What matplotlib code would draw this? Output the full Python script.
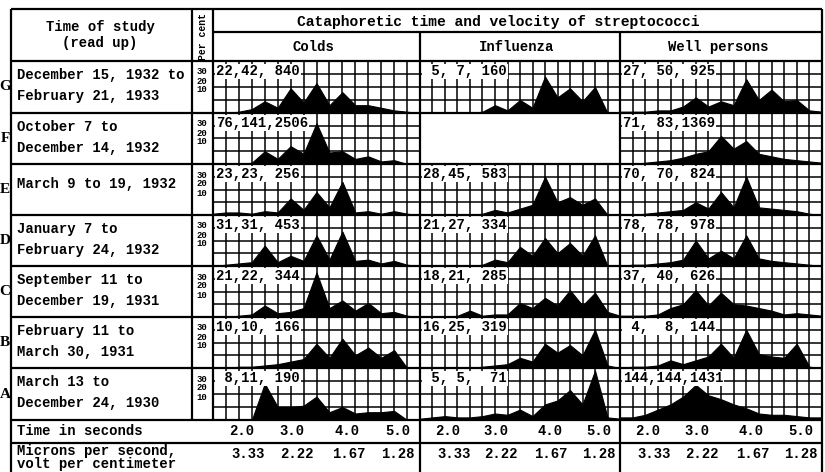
import matplotlib
matplotlib.use("Agg")
import matplotlib.pyplot as plt

W, H = 825, 472
mono = "Liberation Mono"

# rows of the table, top to bottom
letters = ["G", "F", "E", "D", "C", "B", "A"]
period_1 = ["December 15, 1932 to", "October 7 to", "March 9 to 19, 1932", "January 7 to",
            "September 11 to", "February 11 to", "March 13 to"]
period_2 = ["February 21, 1933", "December 14, 1932", "", "February 24, 1932",
            "December 19, 1931", "March 30, 1931", "December 24, 1930"]

groups = ["Colds", "Influenza", "Well persons"]
time_labels = ["2.0", "3.0", "4.0", "5.0"]
velocity_labels = ["3.33", "2.22", "1.67", "1.28"]
cells = list(range(17))   # grid lines, a quarter second apart

colds_counts = ["22,42, 840", "76,141,2506", "23,23, 256", "31,31, 453",
                "21,22, 344", "10,10, 166", " 8,11, 190"]
flu_counts = [" 5, 7, 160", "", "28,45, 583", "21,27, 334",
              "18,21, 285", "16,25, 319", " 5, 5,  71"]
well_counts = ["27, 50, 925", "71, 83,1369", "70, 70, 824", "78, 78, 978",
               "37, 40, 626", " 4,  8, 144", "144,144,1431"]

# per cent of organisms at each grid line
colds_pct = [
    [0, 0, 1, 3, 9, 4, 19, 8, 23, 6, 16, 6, 6, 4, 2, 1, 0],
    [0, 0, 0, 1, 10, 4, 14, 8, 32, 9, 10, 4, 6, 2, 3, 0, 0],
    [1, 2, 2, 1, 3, 2, 13, 4, 18, 6, 26, 2, 3, 1, 3, 1, 0],
    [0, 1, 2, 3, 16, 3, 8, 4, 24, 5, 27, 4, 5, 2, 4, 1, 0],
    [0, 0, 1, 2, 9, 3, 4, 7, 35, 7, 13, 5, 11, 3, 4, 1, 0],
    [0, 0, 1, 1, 2, 3, 5, 7, 19, 8, 23, 10, 16, 8, 14, 0, 0],
    [0, 0, 0, 0, 28, 10, 10, 11, 18, 6, 10, 5, 6, 6, 7, 0, 0],
]
flu_pct = [
    [0, 0, 0, 0, 0, 1, 6, 2, 10, 4, 28, 12, 19, 9, 20, 0, 0],
    None,
    [0, 0, 0, 0, 0, 1, 4, 2, 5, 8, 30, 10, 14, 8, 13, 0, 0],
    [0, 0, 0, 0, 0, 1, 5, 3, 15, 8, 22, 10, 18, 8, 24, 0, 0],
    [0, 0, 0, 1, 5, 1, 2, 2, 11, 7, 15, 9, 21, 9, 19, 4, 1],
    [0, 0, 0, 0, 0, 1, 2, 3, 8, 5, 19, 12, 18, 10, 30, 2, 0],
    [1, 2, 3, 2, 2, 3, 5, 4, 8, 3, 12, 15, 23, 12, 38, 2, 1],
]
well_pct = [
    [1, 1, 1, 2, 2, 5, 12, 5, 9, 6, 26, 10, 18, 9, 10, 2, 1],
    [0, 0, 1, 2, 3, 5, 8, 10, 22, 12, 18, 8, 6, 4, 3, 2, 1],
    [0, 0, 1, 2, 3, 4, 10, 5, 18, 6, 30, 6, 5, 4, 3, 1, 0],
    [0, 1, 1, 2, 3, 5, 20, 6, 12, 6, 24, 6, 4, 3, 2, 1, 0],
    [1, 1, 1, 2, 7, 10, 21, 9, 19, 10, 9, 7, 5, 2, 3, 2, 1],
    [0, 1, 1, 2, 6, 3, 6, 9, 19, 8, 30, 11, 9, 8, 19, 1, 0],
    [2, 2, 4, 8, 12, 18, 27, 19, 16, 12, 9, 5, 4, 4, 3, 2, 2],
]

pct = [colds_pct, flu_pct, well_pct]
counts = [colds_counts, flu_counts, well_counts]

# table layout in pixels
col_x = [(213, 420), (420, 620), (620, 822)]
row_y = [61, 113, 164, 215, 266, 317, 368, 420]
time_pos = [2.2, 6.1, 10.4, 14.3]
vel_pos = [2.7, 6.5, 10.5, 14.3]

fig = plt.figure(figsize=(W / 100, H / 100), dpi=100)
fig.patch.set_facecolor("white")

def px_box(x0, x1, y0, y1):
    return [x0 / W, 1 - y1 / H, (x1 - x0) / W, (y1 - y0) / H]

# the small histograms
for g in range(3):
    x0, x1 = col_x[g]
    for r in range(7):
        ax = fig.add_axes(px_box(x0, x1, row_y[r], row_y[r + 1]))
        ax.set_xlim(0, 16)
        ax.set_ylim(0, 40)
        ax.axis("off")
        vals = pct[g][r]
        if vals is None:
            continue
        ax.vlines(range(1, 16), 0, 40, color="black", lw=1.1)
        ax.hlines([10, 20, 30], 0, 16, color="black", lw=1.1)
        ax.fill_between(cells, vals, 0, color="black", lw=0.8, zorder=3)
        ax.text(0.25, 32, counts[g][r], fontfamily=mono, fontweight="bold", fontsize=10,
                va="center", ha="left", zorder=4,
                bbox=dict(facecolor="white", edgecolor="none", pad=0.6))

# frame, text and labels on top, in pixel coordinates
tab = fig.add_axes([0, 0, 1, 1])
tab.set_xlim(0, W)
tab.set_ylim(H, 0)
tab.axis("off")

lw = 1.6
tab.hlines(9, 11, 822, color="black", lw=lw)
tab.hlines(32, 213, 822, color="black", lw=lw)
for y in row_y + [443]:
    tab.hlines(y, 11, 822, color="black", lw=lw)
tab.vlines(11, 9, H, color="black", lw=lw)
tab.vlines([192, 213], 9, 420, color="black", lw=lw)
tab.vlines([420, 620], 32, H, color="black", lw=lw)
tab.vlines(822, 9, H, color="black", lw=lw)

txt = dict(fontfamily=mono, fontweight="bold", fontsize=10, color="black")

tab.text(100, 27, "Time of study", ha="center", va="center", **txt)
tab.text(100, 43, "(read up)", ha="center", va="center", **txt)
tab.text(203, 36, "Per cent", ha="center", va="center", rotation=90,
         fontfamily=mono, fontweight="bold", fontsize=7)
tab.text(498, 22, "Cataphoretic time and velocity of streptococci",
         ha="center", va="center", fontfamily=mono, fontweight="bold", fontsize=10.5)
for g in range(3):
    x0, x1 = col_x[g]
    tab.text((x0 + x1) / 2 - 3, 47, groups[g], ha="center", va="center", **txt)

for r in range(7):
    top = row_y[r]
    tab.text(5, (top + row_y[r + 1]) / 2, letters[r], ha="center", va="center",
             fontfamily="Liberation Serif", fontweight="bold", fontsize=11)
    if period_2[r]:
        tab.text(17, top + 14, period_1[r], ha="left", va="center", **txt)
        tab.text(17, top + 35, period_2[r], ha="left", va="center", **txt)
    else:
        tab.text(17, top + 20, period_1[r], ha="left", va="center", **txt)
    for lab, dy in zip(["30", "20", "10"], [11, 20, 29]):
        tab.text(202, top + dy, lab, ha="center", va="center",
                 fontfamily=mono, fontweight="bold", fontsize=6.5)

tab.text(17, 431, "Time in seconds", ha="left", va="center", **txt)
tab.text(17, 451, "Microns per second,", ha="left", va="center", **txt)
tab.text(17, 464, "volt per centimeter", ha="left", va="center", **txt)
for g in range(3):
    x0, x1 = col_x[g]
    step = (x1 - x0) / 16
    for lab, p in zip(time_labels, time_pos):
        tab.text(x0 + p * step, 431, lab, ha="center", va="center", **txt)
    for lab, p in zip(velocity_labels, vel_pos):
        tab.text(x0 + p * step, 454, lab, ha="center", va="center", **txt)

fig.savefig("out.png", dpi=100, facecolor="white")
